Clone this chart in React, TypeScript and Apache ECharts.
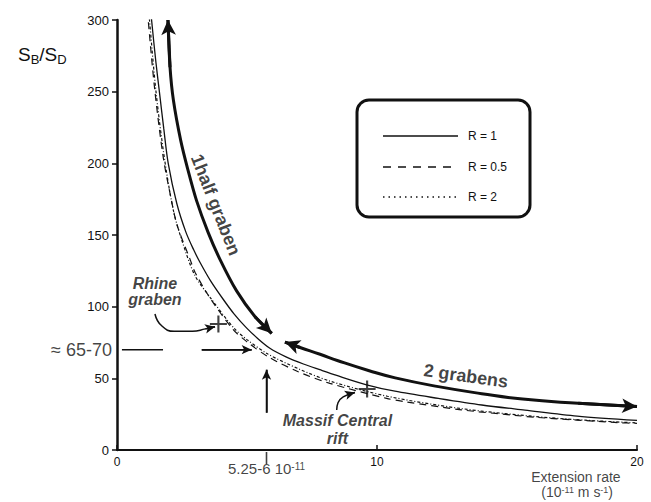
import React, { useEffect, useRef } from 'react';
import * as echarts from 'echarts';

const INK = '#111';
const FONT = '"Liberation Sans", Arial, Helvetica, sans-serif';

// R = 1 (solid)
const r1X = [1.28, 1.33, 1.5, 1.63, 1.8, 1.97, 2.3, 2.65, 2.94, 3.19, 3.6, 4.09, 4.5, 4.99, 5.4, 5.88, 6.5, 7.17, 7.8, 8.45, 9.6, 10.69, 12.36, 14.03, 15.69, 17.7, 20];
const r1Y = [312, 300, 270, 250, 224, 200, 172, 152, 140, 131, 118, 105, 95, 85, 78, 71, 65, 60, 56, 52, 45.5, 41, 36, 31.4, 27.8, 23.6, 20.6];
// R = 0.5 (dashed)
const r05X = [1.15, 1.2, 1.46, 1.78, 2.04, 2.31, 2.81, 3.0, 3.58, 4.47, 4.99, 5.82, 6.97, 8.19, 10.37, 11.08, 13.25, 15.3, 16.1, 19.3, 20];
const r05Y = [315, 300, 250, 204, 179, 157, 133, 124, 106, 84, 75.6, 65, 54.6, 46.5, 36, 33.7, 28, 24.2, 22.8, 19.1, 18.6];
// R = 2 (dotted)
const r2X = [1.2, 1.25, 1.5, 1.82, 2.17, 2.5, 2.99, 3.6, 4.5, 5.0, 5.8, 7.0, 8.2, 10.4, 13.2, 16, 18, 20];
const r2Y = [312, 300, 250, 204, 167, 146, 122, 106, 85, 77, 67, 56.5, 48, 37.5, 29, 23.5, 20.8, 18.9];

// "1half graben" bold arrow
const halfX = [1.96, 2.04, 2.17, 2.45, 2.72, 3.06, 3.5, 3.96, 4.6, 5.31, 5.95];
const halfY = [300, 267, 244, 216, 196, 174, 152, 133, 111, 93, 81.4];
// "2 grabens" bold arrow
const twoX = [6.46, 7.04, 7.81, 8.5, 9.7, 10.7, 12.36, 14.03, 15.6, 17.74, 20];
const twoY = [75.3, 71.5, 66.8, 62.3, 55.3, 50.3, 44.2, 39.3, 35.5, 32.6, 30.3];

// annotation arrows
const rhineArrowX = [1.46, 1.7, 2.2, 2.9, 3.4, 3.77];
const rhineArrowY = [94.9, 87, 82.8, 82.8, 84.5, 86.0];
const massifArrowX = [8.45, 8.5, 8.7, 9.15];
const massifArrowY = [27.9, 33, 37, 40.1];
const hLine1 = [[0.19, 70], [1.77, 70]];
const hLine2 = [[3.26, 70], [5.18, 70]];
const vLine = [[5.75, 26], [5.75, 56]];

// sites
const sites = [[3.9, 87.9], [9.62, 42.6]];

const yTicks = { min: 0, max: 300, interval: 50 };
const xTicks = { min: 0, max: 20, interval: 10 };
const markX = 5.75;
const markY = 70;

const pairs = (xs: number[], ys: number[]) => xs.map((x, i) => [x, ys[i]]);

const arrowHead = (from: number[], to: number[], size: any, width: number) => ({
  silent: true,
  symbol: ['none', 'arrow'],
  symbolSize: size,
  label: { show: false },
  emphasis: { disabled: true },
  lineStyle: { color: INK, width, type: 'solid' },
  data: [[{ coord: from }, { coord: to }]],
});

const textSeries = (name: string, pos: number[], label: any) => ({
  name,
  type: 'scatter',
  silent: true,
  symbolSize: 0,
  data: [pos],
  label: { show: true, color: INK, fontFamily: FONT, textBorderWidth: 0, textShadowBlur: 0, ...label },
  z: 5,
});

const supStyle = { fontFamily: FONT, fontSize: 10, color: INK, verticalAlign: 'top', lineHeight: 10, textBorderWidth: 0 };

export default function App() {
  const ref = useRef<HTMLDivElement>(null);
  useEffect(() => {
    document.body.style.margin = '0';
    const chart = echarts.init(ref.current!, null, { renderer: 'svg' });
    const lineBase = { type: 'line', symbol: 'none', silent: true, smooth: 0.3 };
    chart.setOption({
      animation: false,
      backgroundColor: '#fff',
      title: {
        text: 'S{sub|B}/S{sub|D}',
        left: 13,
        top: 37,
        textStyle: {
          fontFamily: FONT, fontSize: 19, fontWeight: 'normal', color: INK, lineHeight: 24,
          rich: { sub: { fontFamily: FONT, fontSize: 13, color: INK, verticalAlign: 'bottom', lineHeight: 13 } },
        },
      },
      grid: { left: 117, right: 14, top: 20, bottom: 52 },
      xAxis: {
        type: 'value', ...xTicks,
        axisLine: { lineStyle: { color: INK, width: 2 } },
        axisTick: { inside: true, length: 5, lineStyle: { color: INK, width: 1.5 } },
        axisLabel: { color: INK, fontFamily: FONT, fontSize: 12, margin: 6 },
        splitLine: { show: false },
      },
      yAxis: {
        type: 'value', ...yTicks,
        axisLine: { show: true, lineStyle: { color: INK, width: 2.5 } },
        axisTick: { show: true, length: 5, lineStyle: { color: INK, width: 1.5 } },
        axisLabel: { color: INK, fontFamily: FONT, fontSize: 13, margin: 8 },
        splitLine: { show: false },
      },
      series: [
        { ...lineBase, name: 'R = 1', data: pairs(r1X, r1Y), lineStyle: { color: INK, width: 1.3 } },
        { ...lineBase, name: 'R = 0.5', data: pairs(r05X, r05Y), lineStyle: { color: INK, width: 1.2, type: [7, 5] } },
        { ...lineBase, name: 'R = 2', data: pairs(r2X, r2Y), lineStyle: { color: INK, width: 1.2, type: [3, 2, 1, 2] } },
        {
          ...lineBase, name: '1half graben', data: pairs(halfX, halfY), clip: false,
          lineStyle: { color: INK, width: 3 },
          markLine: {
            ...arrowHead([halfX[1], halfY[1]], [halfX[0], halfY[0]], [11, 15], 3),
            data: [
              [{ coord: [halfX[1], halfY[1]] }, { coord: [halfX[0], halfY[0]] }],
              [{ coord: [halfX[9], halfY[9]] }, { coord: [halfX[10], halfY[10]] }],
            ],
          },
        },
        {
          ...lineBase, name: '2 grabens', smooth: 0.5, data: pairs(twoX, twoY), clip: false,
          lineStyle: { color: INK, width: 3 },
          markLine: {
            ...arrowHead([twoX[1], twoY[1]], [twoX[0], twoY[0]], [11, 15], 3),
            data: [
              [{ coord: [twoX[1], twoY[1]] }, { coord: [twoX[0], twoY[0]] }],
              [{ coord: [twoX[9], twoY[9]] }, { coord: [twoX[10], twoY[10]] }],
            ],
          },
        },
        {
          ...lineBase, name: 'rhine arrow', smooth: 0.5, data: pairs(rhineArrowX, rhineArrowY),
          lineStyle: { color: INK, width: 1.5 },
          markLine: arrowHead([rhineArrowX[4], rhineArrowY[4]], [rhineArrowX[5], rhineArrowY[5]], [7, 10], 1.5),
        },
        {
          ...lineBase, name: 'massif arrow', smooth: 0.5, data: pairs(massifArrowX, massifArrowY),
          lineStyle: { color: INK, width: 1.5 },
          markLine: arrowHead([8.85, 38.5], [massifArrowX[3], massifArrowY[3]], [7, 10], 1.5),
        },
        { ...lineBase, name: 'h1', smooth: false, data: hLine1, lineStyle: { color: INK, width: 1.5 } },
        {
          ...lineBase, name: 'h2', smooth: false, data: hLine2, lineStyle: { color: INK, width: 1.5 },
          markLine: arrowHead(hLine2[0], hLine2[1], [7, 10], 1.5),
        },
        {
          ...lineBase, name: 'v', smooth: false, data: vLine, lineStyle: { color: INK, width: 1.5 },
          markLine: arrowHead(vLine[0], vLine[1], [7, 10], 1.5),
        },
        {
          name: 'sites', type: 'scatter', silent: true,
          symbol: 'path://M7,0h2v7h7v2h-7v7h-2v-7h-7v-2h7z',
          symbolSize: 17,
          itemStyle: { color: INK },
          data: sites,
        },
        {
          name: 'mark tick', type: 'scatter', silent: true,
          symbol: 'rect', symbolSize: [1.6, 12], symbolOffset: [0, 8],
          itemStyle: { color: INK },
          data: [[markX, 0]],
        },
        textSeries('mark label', [markX, 0], {
          position: 'bottom', distance: 11, fontSize: 15,
          formatter: '5.25-6 10{sup|-11}',
          rich: { sup: supStyle },
        }),
        textSeries('level label', [0, markY], {
          position: 'left', distance: 5, fontSize: 18, formatter: '≈ 65-70',
        }),
        textSeries('x name', [17.65, 0], {
          position: 'bottom', distance: 20, fontSize: 14, lineHeight: 14, align: 'center',
          formatter: 'Extension rate',
        }),
        textSeries('x unit', [17.7, 0], {
          position: 'bottom', distance: 35, fontSize: 14, lineHeight: 14, align: 'center',
          formatter: '(10{sup|-11} m s{sup|-1})',
          rich: { sup: { ...supStyle, fontSize: 9, lineHeight: 9 } },
        }),
        textSeries('half label', [3.8, 171], {
          position: 'inside', rotate: -68.5, fontSize: 18, fontWeight: 'bold', formatter: '1half graben',
        }),
        textSeries('two label', [13.42, 51.6], {
          position: 'inside', rotate: -8, fontSize: 18, fontWeight: 'bold', formatter: '2 grabens',
        }),
        textSeries('rhine label', [1.46, 110.5], {
          position: 'inside', fontSize: 16, fontWeight: 'bold', fontStyle: 'italic', lineHeight: 16, align: 'center',
          formatter: 'Rhine\ngraben',
        }),
        textSeries('massif label', [8.48, 14], {
          position: 'inside', fontSize: 16, fontWeight: 'bold', fontStyle: 'italic', lineHeight: 18, align: 'center',
          formatter: 'Massif Central\nrift',
        }),
      ],
      graphic: [
        {
          type: 'group', silent: true,
          children: [
            { type: 'rect', shape: { x: 357, y: 100, width: 173, height: 117, r: 12 }, style: { fill: '#fff', stroke: INK, lineWidth: 3 } },
            { type: 'line', shape: { x1: 383, y1: 136, x2: 458, y2: 136 }, style: { stroke: INK, lineWidth: 1.3 } },
            { type: 'line', shape: { x1: 383, y1: 167, x2: 458, y2: 167 }, style: { stroke: INK, lineWidth: 1.3, lineDash: [8, 7] } },
            { type: 'line', shape: { x1: 383, y1: 197, x2: 458, y2: 197 }, style: { stroke: INK, lineWidth: 1.3, lineDash: [1.5, 4] } },
            { type: 'text', x: 468, y: 136, style: { text: 'R = 1', fill: INK, fontFamily: FONT, fontSize: 12, verticalAlign: 'middle' } },
            { type: 'text', x: 468, y: 167, style: { text: 'R = 0.5', fill: INK, fontFamily: FONT, fontSize: 12, verticalAlign: 'middle' } },
            { type: 'text', x: 468, y: 197, style: { text: 'R = 2', fill: INK, fontFamily: FONT, fontSize: 12, verticalAlign: 'middle' } },
          ],
        },
      ],
    });
    return () => chart.dispose();
  }, []);
  return <div ref={ref} style={{ width: 651, height: 502 }} />;
}
